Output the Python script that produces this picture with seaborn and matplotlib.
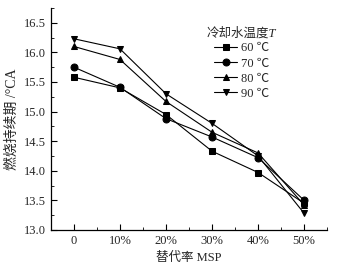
import pandas as pd
import seaborn as sns
import matplotlib.pyplot as plt
from matplotlib.ticker import MultipleLocator

msp = ["0", "10%", "20%", "30%", "40%", "50%"]
temps = ["60 ℃", "70 ℃", "80 ℃", "90 ℃"]
t60 = [15.58, 15.40, 14.95, 14.33, 13.97, 13.45]
t70 = [15.75, 15.41, 14.88, 14.57, 14.22, 13.50]
t80 = [16.10, 15.88, 15.17, 14.65, 14.30, 13.42]
t90 = [16.23, 16.06, 15.30, 14.80, 14.25, 13.28]

rows = []
for name, vals in zip(temps, [t60, t70, t80, t90]):
    for i, v in enumerate(vals):
        rows.append({"x": i, "y": v, "T": name})
df = pd.DataFrame(rows)

sns.set_style("ticks")
plt.rcParams['font.family'] = ['Liberation Serif', 'Noto Sans CJK SC']

fig = plt.figure(figsize=(3.44, 2.76), dpi=100)
ax = fig.add_axes([0.148, 0.167, 0.803, 0.804])
sns.lineplot(data=df, x="x", y="y", hue="T", style="T",
             palette=["black"] * 4, markers=["s", "o", "^", "v"],
             dashes=False, markersize=5, linewidth=0.8,
             markeredgecolor="black", ax=ax)

yt = [13.0, 13.5, 14.0, 14.5, 15.0, 15.5, 16.0, 16.5]
ax.set_xlim(-0.5, 5.5)
ax.set_ylim(13.0, 16.75)
ax.set_xticks(range(len(msp)))
ax.set_xticklabels(msp)
ax.set_yticks(yt)
ax.set_yticklabels([f"{v:.1f}" for v in yt])
ax.xaxis.set_minor_locator(MultipleLocator(0.5))
ax.yaxis.set_minor_locator(MultipleLocator(0.25))
ax.tick_params(which="both", direction="in", labelsize=9, color="black")
ax.tick_params(which="major", length=4)
ax.tick_params(which="minor", length=2)
sns.despine(ax=ax)
for s in ["left", "bottom"]:
    ax.spines[s].set_linewidth(0.9)
    ax.spines[s].set_color("black")

ax.set_xlabel("替代率 MSP", fontsize=9)
ax.set_ylabel("燃烧持续期 /°CA", fontsize=10)

leg = ax.legend(title="冷却水温度T", loc="upper left", frameon=False,
                fontsize=9, title_fontsize=9, handlelength=1.8,
                labelspacing=0.25, borderpad=0, borderaxespad=0,
                handletextpad=0.3, bbox_to_anchor=(0.565, 0.915))
leg.get_title().set_fontstyle("italic")

fig.savefig("out.png", dpi=100)
